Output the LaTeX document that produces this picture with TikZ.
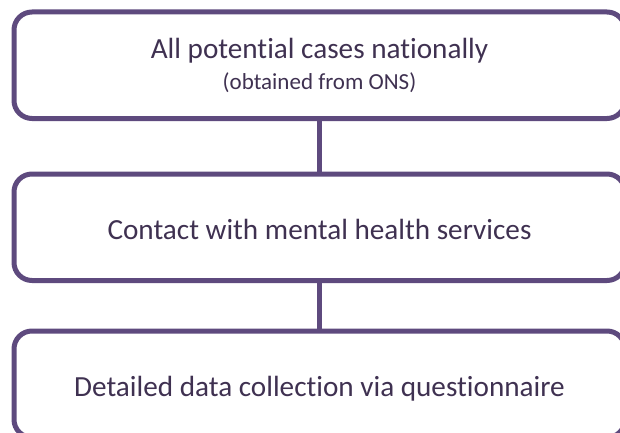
\documentclass[tikz,border=0pt]{standalone}
\usepackage{fontspec}
\setmainfont{Carlito}[Ligatures=NoCommon]
\usetikzlibrary{positioning}
\definecolor{boxpurple}{RGB}{94,74,126}
\definecolor{textpurple}{RGB}{63,49,81}

\begin{document}
\begin{tikzpicture}[x=1pt,y=1pt,
  stagebox/.style={draw=boxpurple, line width=5pt, rounded corners=18pt,
    minimum width=611pt, minimum height=106.5pt, inner sep=0pt, outer sep=0pt,
    text=textpurple, font=\fontsize{29.2}{31}\selectfont, align=center},
  oneline/.style={text height=25pt, text depth=0pt},
  link/.style={draw=boxpurple, line width=5pt}]
  \useasboundingbox (0,0) rectangle (620,432);

  % 1. The three stages, stacked from top to bottom
  \node[stagebox] (cases) at (319.5,366.75)
    {All potential cases nationally\\{\fontsize{23}{24}\selectfont (obtained from ONS)}};
  \node[stagebox, oneline, below=55.5pt of cases] (contact) {Contact with mental health services};
  \node[stagebox, oneline, below=50.5pt of contact] (detail) {Detailed data collection via questionnaire};

  % 2. Join each stage to the next one
  \draw[link] (cases) -- (contact);
  \draw[link] (contact) -- (detail);
\end{tikzpicture}
\end{document}
